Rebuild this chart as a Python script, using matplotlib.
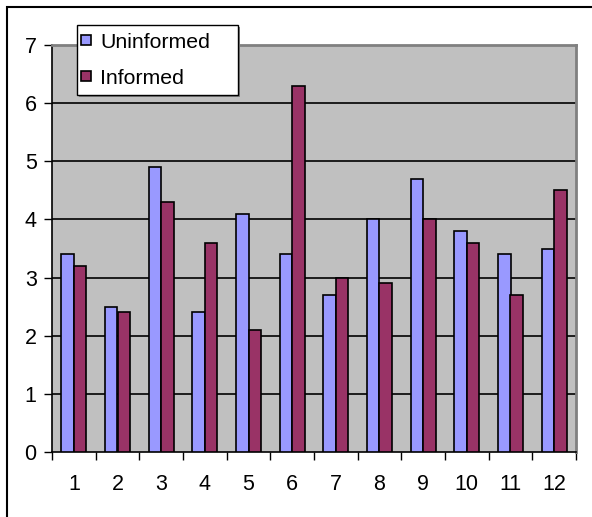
import matplotlib
matplotlib.use("Agg")
import matplotlib.pyplot as plt
import numpy as np
from matplotlib.patches import Rectangle
from matplotlib.lines import Line2D

categories = ["1", "2", "3", "4", "5", "6", "7", "8", "9", "10", "11", "12"]
uninformed = [3.4, 2.5, 4.9, 2.4, 4.1, 3.4, 2.7, 4.0, 4.7, 3.8, 3.4, 3.5]
informed = [3.2, 2.4, 4.3, 3.6, 2.1, 6.3, 3.0, 2.9, 4.0, 3.6, 2.7, 4.5]
series_names = ["Uninformed", "Informed"]
series_colors = ['#9999FF', '#993366']

plt.rcParams['font.family'] = ['Liberation Sans', 'DejaVu Sans']

W, H = 592, 517
fig = plt.figure(figsize=(W / 100, H / 100), dpi=100)
ax = fig.add_axes([52 / W, 1 - 452 / H, (576 - 52) / W, (452 - 45) / H])
ax.set_facecolor('#C0C0C0')

x = np.arange(len(categories))
bw = 1 / 3.5
ax.bar(x - bw / 2, uninformed, bw, color=series_colors[0], edgecolor='black', linewidth=1.2,
       label=series_names[0], zorder=3)
ax.bar(x + bw / 2, informed, bw, color=series_colors[1], edgecolor='black', linewidth=1.2,
       label=series_names[1], zorder=3)

ax.set_xlim(-0.5, len(categories) - 0.5)
ax.set_ylim(0, 7)
ax.set_yticks(range(0, 8))
ax.set_xticks(x)
ax.set_xticklabels(categories)
ax.set_xticks(np.arange(-0.5, len(categories), 1), minor=True)
ax.tick_params(axis='x', which='major', length=0, labelsize=15.5, pad=16)
ax.tick_params(axis='x', which='minor', length=6, width=1, direction='out')
ax.tick_params(axis='y', length=6, width=1, labelsize=15.5, pad=5)

for v in range(1, 7):
    ax.axhline(v, color='black', linewidth=1.2, zorder=1)

ax.spines['left'].set_color('black')
ax.spines['bottom'].set_color('black')
ax.spines['left'].set_linewidth(1.2)
ax.spines['bottom'].set_linewidth(1.2)
ax.spines['top'].set_color('#808080')
ax.spines['right'].set_color('#808080')
ax.spines['top'].set_linewidth(2)
ax.spines['right'].set_linewidth(2)

# legend frame (figure pixel coordinates)
lx0, lx1, ly0, ly1 = 77, 238, 25, 95
fig.patches.append(Rectangle(((lx0 + 2) / W, 1 - (ly1 + 2) / H), (lx1 - lx0) / W, (ly1 - ly0) / H,
                             transform=fig.transFigure, facecolor='#808080', edgecolor='none',
                             zorder=4))
fig.patches.append(Rectangle((lx0 / W, 1 - ly1 / H), (lx1 - lx0) / W, (ly1 - ly0) / H,
                             transform=fig.transFigure, facecolor='white', edgecolor='black',
                             linewidth=1.0, zorder=4.5))
fig.patches.append(Rectangle((7 / W, -0.05), 1.1, 1 - 7 / H + 0.05, transform=fig.transFigure,
                             fill=False, edgecolor='black', linewidth=1.5))

handles = [Line2D([], [], linestyle='none', marker='s', markersize=7,
                  markerfacecolor=c, markeredgecolor='black', markeredgewidth=1.2)
           for c in series_colors]
leg = fig.legend(handles, series_names, loc='center left',
                 bbox_to_anchor=(81 / W, 1 - 60 / H),
                 frameon=False, fontsize=15.3,
                 handlelength=0.5, handletextpad=0.4,
                 borderpad=0, labelspacing=0.8, borderaxespad=0)
leg.set_zorder(6)

fig.savefig('out.png', dpi=100)
